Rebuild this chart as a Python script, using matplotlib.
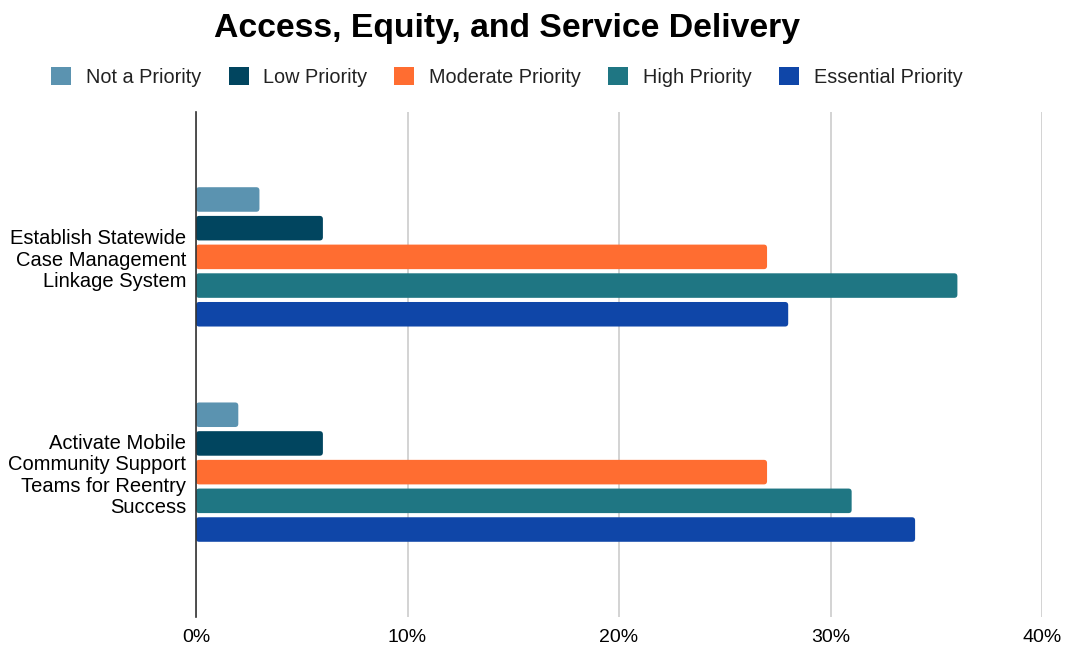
import matplotlib
matplotlib.use("Agg")
import matplotlib.pyplot as plt
from matplotlib.patches import FancyBboxPatch, Rectangle
import numpy as np

plt.rcParams['font.family'] = ['Liberation Sans', 'DejaVu Sans']

categories = [
    "Establish Statewide\nCase Management\nLinkage System",
    "Activate Mobile\nCommunity Support\nTeams for Reentry\nSuccess",
]
series_names = ["Not a Priority", "Low Priority", "Moderate Priority",
                "High Priority", "Essential Priority"]
not_priority = [3, 2]
low_priority = [6, 6]
moderate_priority = [27, 27]
high_priority = [36, 31]
essential_priority = [28, 34]
x_ticks = [0, 10, 20, 30, 40]
x_tick_labels = ["0%", "10%", "20%", "30%", "40%"]

series_values = [not_priority, low_priority, moderate_priority,
                 high_priority, essential_priority]
colors = ["#5B93B0", "#01455F", "#FF6D31", "#1F7683", "#0F46A8"]

W, H = 1066, 647
fig = plt.figure(figsize=(W / 100, H / 100), dpi=100)
ax = fig.add_axes([196 / W, 1 - 617 / H, (1042 - 196) / W, (617 - 112) / H])

pitch = 0.1333
height = 0.114
y = np.arange(len(categories))
for i, (name, vals, c) in enumerate(zip(series_names, series_values, colors)):
    offs = (i - 2) * pitch
    bars = ax.barh(y + offs, vals, height=height, color=c, label=name)
    # swap each rectangle for a rounded-corner box with the same bounds
    for b in bars:
        b.set_visible(False)
        fb = FancyBboxPatch((b.get_x(), b.get_y()), b.get_width(), b.get_height(),
                            boxstyle="round,pad=0,rounding_size=0.15",
                            mutation_aspect=0.1, facecolor=c, edgecolor="none",
                            zorder=2)
        ax.add_patch(fb)

ax.set_xlim(0, 40)
ax.set_ylim(1.673, -0.673)
ax.set_xticks(x_ticks)
ax.set_xticklabels(x_tick_labels)
ax.set_yticks(y)
ax.set_yticklabels(categories, linespacing=1.16, ha="right")
ax.tick_params(axis="both", length=0, colors="#000000")
ax.tick_params(axis="y", pad=7, labelsize=14.5)
ax.tick_params(axis="x", pad=9, labelsize=14)
ax.grid(axis="x", color="#CCCCCC", linewidth=1.2, zorder=0)
ax.set_axisbelow(True)
for s in ["top", "right", "bottom"]:
    ax.spines[s].set_visible(False)
ax.spines["left"].set_color("#333333")
ax.spines["left"].set_linewidth(1.2)
ax.spines["left"].set_zorder(3)

# legend: one entry per series, laid out along the top
legend_x = [51, 228.5, 394, 608, 779]
for name, c, lx in zip(series_names, colors, legend_x):
    h = Rectangle((0, 0), 1, 1, facecolor=c, edgecolor="none")
    fig.legend([h], [name], loc="center left", bbox_to_anchor=(lx / W, 1 - 77 / H),
               frameon=False, fontsize=14.3, handlelength=1.03, handleheight=1.03,
               handletextpad=0.72, borderaxespad=0, borderpad=0,
               labelcolor="#222222")

fig.text(507 / W, 1 - 37 / H, "Access, Equity, and Service Delivery",
         ha="center", va="baseline", fontsize=24.3, fontweight="bold")

fig.savefig("out.png", dpi=100)
